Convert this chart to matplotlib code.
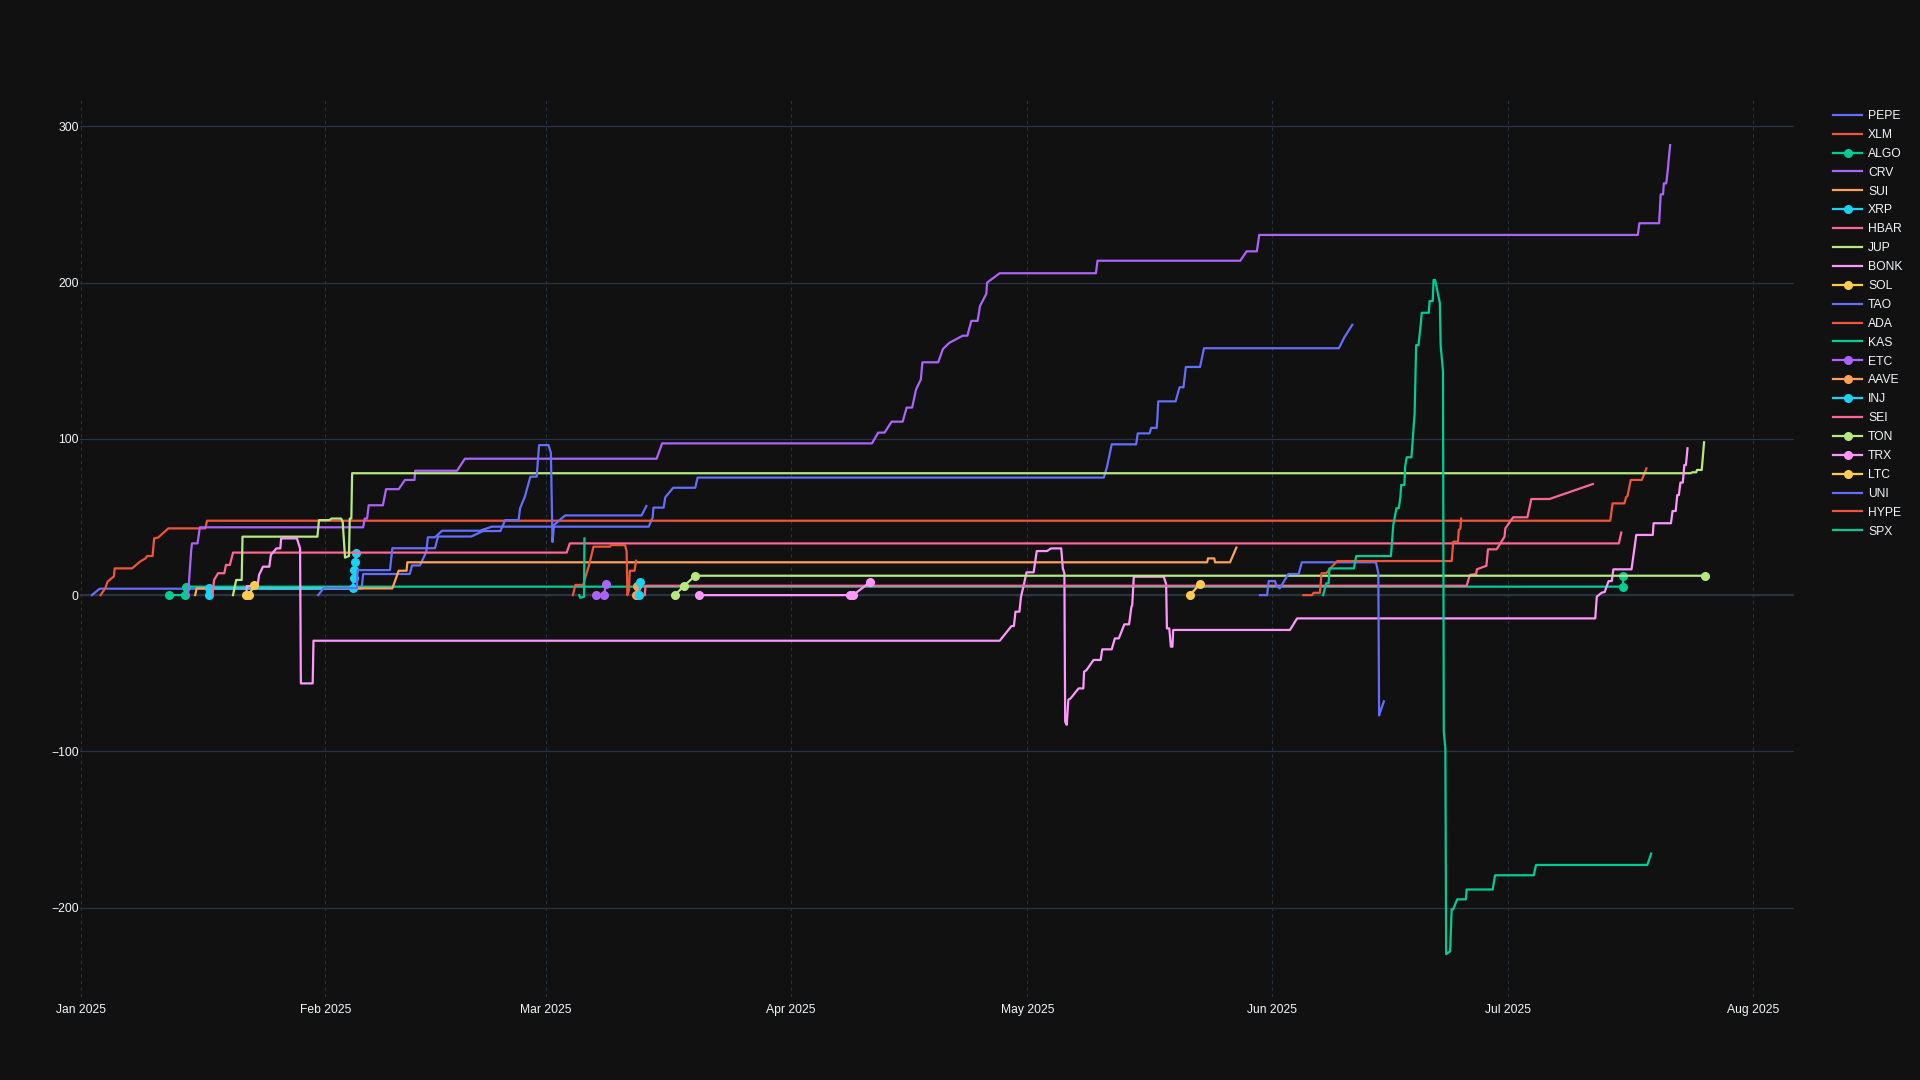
"""Cumulative value per coin, 2025 — dark step-line chart with a coin legend."""

import matplotlib

matplotlib.use("Agg")
import matplotlib.dates as mdates
import matplotlib.pyplot as plt
import pandas as pd

START = pd.Timestamp("2025-01-01")

# (days since 2025-01-01, value) per coin
pepe_days = [1.4, 2.4, 35.6, 35.8, 41.7, 42.0, 43.0, 43.8, 44.0, 44.9, 45.8, 50.6, 52.1, 72.0, 72.5,
             72.6, 73.9, 74.1, 75.1, 77.9, 78.2, 129.7, 130.1, 130.7, 133.8, 134.0, 135.5, 135.7,
             136.4, 136.5, 136.6, 138.8, 139.3, 139.8, 140.1, 141.9, 142.4, 159.5, 160.2, 161.2]
pepe_vals = [0, 4.1, 4.1, 13.5, 13.5, 19, 19, 27.7, 37, 37, 41.2, 41.2, 43.8, 43.8, 49.6, 56, 56,
             62.6, 68.7, 68.7, 75.2, 75.2, 82, 96.5, 96.5, 103.5, 103.5, 107, 107, 114, 124, 124,
             133, 133, 146, 146, 158, 158, 165, 173]

xlm_days = [2.5, 3.1, 3.4, 4.2, 4.3, 6.5, 7.5, 8.2, 8.4, 9.1, 9.3, 9.8, 11.1, 15.8, 16.0, 193.9,
            194.2, 195.7, 195.9, 196.1, 196.5, 197.9, 198.5]
xlm_vals = [0, 4.3, 8.6, 12, 17.1, 17.1, 21.4, 23.5, 25, 25, 36.3, 36.8, 42.7, 42.7, 47.6, 47.6,
            58.7, 58.7, 62.6, 63.5, 73.7, 73.7, 81.1]

algo_days = [11.2, 13.2, 13.3, 195.5, 195.55]
algo_vals = [0, 0, 5.4, 5.4, 12.4]

crv_days = [13.6, 14.0, 14.1, 14.8, 15.1, 35.8, 36.0, 36.3, 36.5, 38.3, 38.7, 40.3, 41.1, 42.3,
            42.4, 47.7, 48.7, 73.0, 73.7, 100.3, 101.1, 101.9, 102.8, 104.2, 104.7, 105.4, 105.9,
            106.5, 106.7, 108.7, 109.3, 110.1, 111.8, 112.4, 112.9, 113.7, 114.0, 114.8, 114.9,
            116.5, 128.7, 128.9, 147.0, 147.8, 149.1, 149.4, 197.4, 197.6, 200.1, 200.3, 200.6,
            200.7, 201.0, 201.2, 201.3, 201.5]
crv_vals = [0, 28.9, 33.1, 33.1, 43.4, 43.4, 49, 49, 57.5, 57.5, 67.8, 67.8, 73.7, 73.7, 79.6,
            79.6, 87.3, 87.3, 97.1, 97.1, 104, 104, 111, 111, 120, 120, 131.7, 138, 149, 149,
            157.5, 161.4, 166, 166, 175.5, 175.5, 185, 192.8, 200, 206, 206, 214, 214, 220, 220,
            230.5, 230.5, 238, 238, 256.5, 256.5, 263.5, 263.5, 272, 278, 288]

sui_days = [14.5, 14.7, 39.5, 40.3, 41.3, 41.4, 142.8, 142.9, 143.7, 143.8, 145.7, 146.5]
sui_vals = [0, 4.3, 4.3, 15.6, 15.6, 21, 21, 23.5, 23.5, 21, 21, 30.4]

xrp_days = [16.2, 16.3, 34.5, 34.6, 34.7, 34.8, 34.9]
xrp_vals = [0, 4.3, 4.3, 10.7, 16, 21.4, 26.7]

hbar_days = [16.7, 16.9, 17.4, 18.2, 18.4, 18.9, 19.3, 61.6, 62.0, 195.0, 195.3]
hbar_vals = [0, 9.7, 14, 14, 19.3, 19.3, 27.2, 27.2, 33.1, 33.1, 40]

jup_days = [19.3, 19.7, 20.4, 20.5, 30.0, 30.2, 31.5, 31.8, 33.0, 33.2, 33.5, 34.0, 34.1, 34.3,
            34.4, 204.1, 204.3, 204.8, 204.9, 205.5, 205.8]
jup_vals = [0, 9.7, 9.7, 37.4, 37.4, 48, 48, 49, 49, 47, 24, 25, 49, 49, 78, 78, 78.6, 78.6,
            80.1, 80.1, 97.8]

bonk_days = [21.0, 21.05, 21.7, 22.4, 22.6, 23.1, 23.9, 24.1, 24.8, 25.3, 25.4, 27.4, 27.8, 27.9,
             29.4, 29.5, 116.5, 118.0, 118.3, 118.5, 119.0, 119.2, 119.5, 119.9, 120.8, 121.2,
             122.5, 123.0, 124.3, 124.5, 124.7, 124.8, 125.0, 125.2, 125.5, 126.5, 127.1, 127.2,
             127.5, 128.4, 129.3, 129.5, 130.7, 131.1, 131.6, 132.3, 132.9, 133.2, 133.3, 133.5,
             137.3, 137.6, 137.7, 138.0, 138.2, 138.4, 138.5, 153.3, 154.2, 192.0, 192.2, 192.8,
             193.2, 193.7, 194.1, 194.3, 196.6, 197.0, 197.2, 199.3, 199.4, 201.6, 201.8, 202.2,
             202.4, 202.6, 202.8, 203.1, 203.3, 203.5, 203.7]
bonk_vals = [0, 5.8, 5.8, 5.4, 12.9, 18.2, 18.2, 25.7, 29.9, 29.9, 36.3, 36.3, 29.9, -56.5,
             -56.5, -29.2, -29.2, -19.8, -19.8, -10.6, -10.6, -1, 5.4, 14.6, 14.6, 28.2, 28.2,
             29.9, 29.9, 17.1, 14, -81, -83, -67, -66, -59.7, -59.7, -49, -48, -41.5, -41.5,
             -34.7, -34.7, -27.7, -27.7, -18.7, -18.7, -7.4, -6.5, 11.8, 11.8, 7, -21.3, -21.3,
             -33, -33, -22.3, -22.3, -14.9, -14.9, -1, 1.5, 2, 9, 9, 16.5, 16.5, 31, 38.5, 38.5,
             46, 46, 53.8, 53.8, 64, 64, 72, 72, 83.3, 83.3, 94]

sol_days = [20.9, 21.3, 22.0]
sol_vals = [0, 0, 6.2]

tao_days = [30.1, 30.8, 35.0, 35.1, 39.2, 39.5, 44.9, 45.3, 49.5, 51.0, 53.2, 53.8, 55.5, 55.7,
            56.3, 57.0, 57.8, 58.1, 59.3, 59.6, 59.8, 60.0, 61.4, 71.1, 71.7]
tao_vals = [0, 4.5, 4.5, 16, 16, 30, 30, 37.5, 37.5, 41, 41, 48, 48, 55.7, 63, 75.8, 75.8, 96,
            96, 91, 34, 44.9, 51, 51, 57]

ada_days = [62.4, 62.7, 63.7, 64.0, 64.4, 64.7, 65.0, 67.1, 67.2, 69.0, 69.2, 69.3, 69.5, 69.6,
            70.2, 70.4]
ada_vals = [0, 6.5, 6.5, 12, 18.5, 24.6, 31, 31, 32, 32, 28, 0, 3.3, 15.6, 15.6, 22]

kas_days = [63.2, 63.3, 63.8, 63.85]
kas_vals = [0, -1.7, -1.0, 36.3]

etc_days = [65.3, 66.3, 66.6]
etc_vals = [0, 0, 6.9]

aave_days = [70.4, 70.5]
aave_vals = [0, 6.0]

inj_days = [70.8, 70.9]
inj_vals = [0, 8.6]

sei_days = [71.5, 71.6, 175.7, 176.1, 176.9, 177.0, 178.1, 178.2, 178.4, 179.5, 180.5, 180.6,
            181.6, 183.4, 183.9, 186.2, 191.7]
sei_vals = [0, 6, 6, 12.9, 13.5, 16.5, 18.6, 18.6, 29.3, 29.3, 37.4, 42.7, 49.8, 49.8, 61.5,
            61.5, 71.1]

ton_days = [75.3, 76.5, 77.9, 205.9]
ton_vals = [0, 6, 12.4, 12.4]

trx_days = [78.4, 97.5, 97.9, 100.1]
trx_vals = [0, 0, 0, 8.4]

ltc_days = [140.6, 141.9]
ltc_vals = [0, 7.1]

uni_days = [149.5, 150.4, 150.6, 151.4, 151.6, 152.0, 153.1, 154.4, 154.8, 164.2, 164.5, 164.6,
            165.2]
uni_vals = [0, 0, 9, 9, 6, 4.3, 13.5, 13.5, 21, 21, 14, -77, -68]

hype_days = [155.0, 156.1, 156.3, 157.1, 157.3, 157.9, 158.4, 159.3, 173.8, 174.0, 174.6, 174.7,
             174.9, 175.0]
hype_vals = [0, 0, 1.5, 1.5, 14, 14, 17, 21.8, 21.8, 34.2, 34.2, 41.7, 42.5, 49]

spx_days = [157.5, 157.9, 158.2, 158.3, 161.4, 161.7, 166.1, 166.4, 166.8, 167.1, 167.3, 167.4,
            167.8, 167.9, 168.1, 168.7, 169.1, 169.3, 169.6, 169.9, 170.0, 170.9, 171.0, 171.4,
            171.5, 171.7, 172.3, 172.4, 172.7, 172.8, 173.0, 173.1, 173.6, 173.8, 174.0, 174.5,
            175.6, 175.7, 179.0, 179.3, 184.2, 184.5, 198.6, 199.1]
spx_vals = [0, 7.5, 7.5, 17.1, 17.1, 25, 25, 45, 55.6, 55.6, 63, 70.5, 70.5, 82.2, 88.2, 88.2,
            116, 160, 160, 174.5, 180.7, 180.7, 188.2, 188.2, 201.7, 201.7, 187, 160, 143, -87,
            -98.4, -229.8, -228, -201, -201, -194.7, -194.7, -188.4, -188.4, -179.3, -179.3,
            -172.7, -172.7, -165.4]

COINS = ["PEPE", "XLM", "ALGO", "CRV", "SUI", "XRP", "HBAR", "JUP", "BONK", "SOL", "TAO", "ADA",
         "KAS", "ETC", "AAVE", "INJ", "SEI", "TON", "TRX", "LTC", "UNI", "HYPE", "SPX"]
SERIES = {
    "PEPE": (pepe_days, pepe_vals), "XLM": (xlm_days, xlm_vals), "ALGO": (algo_days, algo_vals),
    "CRV": (crv_days, crv_vals), "SUI": (sui_days, sui_vals), "XRP": (xrp_days, xrp_vals),
    "HBAR": (hbar_days, hbar_vals), "JUP": (jup_days, jup_vals), "BONK": (bonk_days, bonk_vals),
    "SOL": (sol_days, sol_vals), "TAO": (tao_days, tao_vals), "ADA": (ada_days, ada_vals),
    "KAS": (kas_days, kas_vals), "ETC": (etc_days, etc_vals), "AAVE": (aave_days, aave_vals),
    "INJ": (inj_days, inj_vals), "SEI": (sei_days, sei_vals), "TON": (ton_days, ton_vals),
    "TRX": (trx_days, trx_vals), "LTC": (ltc_days, ltc_vals), "UNI": (uni_days, uni_vals),
    "HYPE": (hype_days, hype_vals), "SPX": (spx_days, spx_vals),
}
# short series get markers (plotly's lines+markers default)
MARKED = {"ALGO", "XRP", "SOL", "ETC", "AAVE", "INJ", "TON", "TRX", "LTC"}

# plotly colorway, dark template
COLORWAY = ["#636efa", "#EF553B", "#00cc96", "#ab63fa", "#FFA15A",
            "#19d3f3", "#FF6692", "#B6E880", "#FF97FF", "#FECB52"]
BG = "#111111"
GRID = "#283442"
TEXT = "#f2f5fa"

plt.rcParams["font.family"] = ["Liberation Sans", "DejaVu Sans"]

fig = plt.figure(figsize=(19.2, 10.8), dpi=100, facecolor=BG)
ax = fig.add_axes([80 / 1920, 1 - 997 / 1080, (1794 - 80) / 1920, (997 - 99) / 1080])
ax.set_facecolor(BG)

for i, name in enumerate(COINS):
    days, vals = SERIES[name]
    x = START + pd.to_timedelta(days, unit="D")
    ax.plot(
        x, vals,
        color=COLORWAY[i % len(COLORWAY)],
        linewidth=1.6,
        marker="o" if name in MARKED else None,
        markersize=5.5,
        label=name,
        zorder=3,
    )

ax.axhline(0, color=GRID, linewidth=1.6, zorder=1.5)

ax.set_xlim(START + pd.Timedelta(days=-0.1), START + pd.Timedelta(days=217.2))
ax.set_ylim(-257.2, 317.5)
ax.set_yticks([-200, -100, 0, 100, 200, 300])
ax.xaxis.set_major_locator(mdates.MonthLocator())
ax.xaxis.set_major_formatter(mdates.DateFormatter("%b %Y"))

ax.grid(axis="y", color=GRID, linewidth=0.9, zorder=1)
ax.grid(axis="x", color=GRID, linewidth=0.8, linestyle=(0, (3, 3)), zorder=1)
ax.set_axisbelow(True)
for spine in ax.spines.values():
    spine.set_visible(False)
ax.tick_params(axis="both", length=0, colors=TEXT, labelsize=8.7)
ax.tick_params(axis="x", pad=5)
ax.tick_params(axis="y", pad=1)

ax.legend(
    loc="upper left",
    bbox_to_anchor=(1833 / 1920, 1 - 110 / 1080),
    bbox_transform=fig.transFigure,
    frameon=False,
    fontsize=8.7,
    labelcolor=TEXT,
    handlelength=2.4,
    handletextpad=0.5,
    labelspacing=0.57,
    numpoints=1,
    borderaxespad=0,
    borderpad=0,
)

fig.savefig("out.png", dpi=100, facecolor=BG)
plt.close(fig)
